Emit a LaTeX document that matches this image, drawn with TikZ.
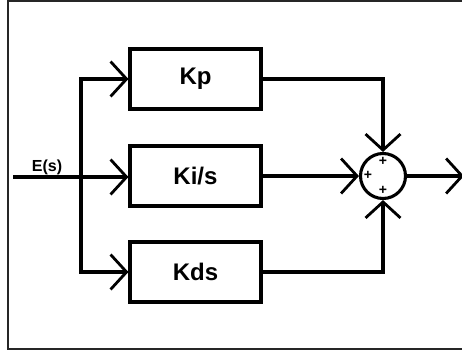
\documentclass[tikz,border=0pt]{standalone}
\usepackage{fontspec}
\setmainfont{Liberation Sans}
\usetikzlibrary{arrows.meta}
\tikzset{
  wire/.style={line width=3.1pt, draw=black},
  arr/.style={wire, -{Straight Barb[length=16pt,width=35pt,line width=2.8pt]}},
  blockbox/.style={draw=black, line width=3.1pt, minimum width=131pt, minimum height=60pt, inner sep=0pt, font=\fontsize{24}{28}\selectfont\bfseries},
  sumnode/.style={circle, draw=black, line width=3.1pt, minimum size=45pt, inner sep=0pt},
  plus/.style={font=\fontsize{14}{16}\selectfont\bfseries, inner sep=0pt},
  lbl/.style={font=\fontsize{16}{19}\selectfont\bfseries, inner sep=0pt}
}
\begin{document}
\begin{tikzpicture}[x=1pt,y=-1pt]
\useasboundingbox (0,0) rectangle (462,351);
\clip (0,0) rectangle (462,351);
\draw[line width=2.2pt, draw=black!85] (8,1) rectangle (480,349);
\node[blockbox] (Kp) at (195.5,79) {Kp};
\node[blockbox] (Ki) at (195.5,176) {Ki/s};
\node[blockbox] (Kd) at (195.5,272) {Kds};
\node[sumnode] (sum) at (383,176) {};
\node[plus] (p1) at (383,161) {+};
\node[plus] (p2) at (368,175) {+};
\node[plus] (p3) at (383,190) {+};
\coordinate (in) at (13,177);
\coordinate (br) at (81,177);
\coordinate (out) at (464,176);
\node[lbl] (E) at (47,167) {E(s)};
\draw[arr] (in) -- (Ki.west |- in);
\draw[arr] (br) |- (Kp.west);
\draw[arr] (br) |- (Kd.west);
\draw[arr] (Kp.east) -| (sum.north);
\draw[arr] (Ki.east) -- (sum.west);
\draw[arr] (Kd.east) -| (sum.south);
\draw[arr] (sum.east) -- (out);
\end{tikzpicture}
\end{document}
